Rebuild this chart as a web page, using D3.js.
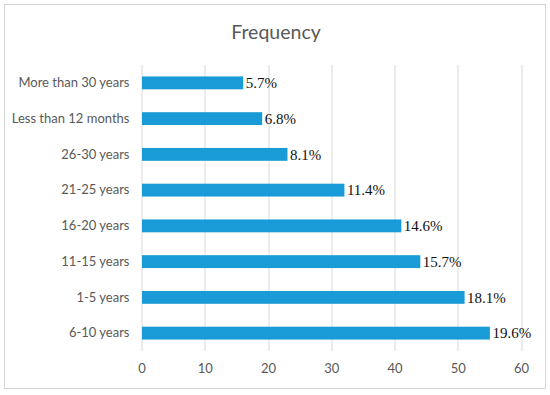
<!DOCTYPE html>
<html>
<head>
<meta charset="utf-8">
<script src="https://cdn.jsdelivr.net/npm/d3@7"></script>
<style>
  body { margin: 0; background: #fff; }
</style>
</head>
<body>
<div id="chart"></div>
<script>
// data, top to bottom
var categories = ["More than 30 years", "Less than 12 months", "26-30 years", "21-25 years",
                  "16-20 years", "11-15 years", "1-5 years", "6-10 years"];
var counts = [16, 19, 23, 32, 41, 44, 51, 55];
var percents = ["5.7%", "6.8%", "8.1%", "11.4%", "14.6%", "15.7%", "18.1%", "19.6%"];
var xTicks = [0, 10, 20, 30, 40, 50, 60];

var svgWidth = 550;
var svgHeight = 395;

var margin = { top: 65, right: 29, bottom: 44, left: 141.5 };
var chartWidth = svgWidth - margin.left - margin.right;
var chartHeight = svgHeight - margin.top - margin.bottom;

var svg = d3.select("#chart")
  .append("svg")
  .attr("width", svgWidth)
  .attr("height", svgHeight);

// outer frame
svg.append("rect")
  .attr("x", 4.5)
  .attr("y", 4.5)
  .attr("width", 541)
  .attr("height", 384)
  .attr("fill", "#fff")
  .attr("stroke", "#d4d4d4");

svg.append("text")
  .attr("x", 276)
  .attr("y", 39)
  .attr("text-anchor", "middle")
  .attr("font-family", "Lato, 'Open Sans', sans-serif")
  .attr("font-size", "19.5px")
  .attr("fill", "#595959")
  .text("Frequency");

var chartGroup = svg.append("g")
  .attr("transform", `translate(${margin.left}, ${margin.top})`);

var x = d3.scaleLinear()
  .domain([0, 60])
  .range([0, chartWidth]);

var y = d3.scaleBand()
  .domain(categories)
  .range([0, chartHeight])
  .paddingInner(0.64)
  .paddingOuter(0.32);

// gridlines
chartGroup.selectAll(".grid")
  .data(xTicks)
  .enter()
  .append("line")
  .attr("x1", d => Math.round(x(d)) + 0.5)
  .attr("x2", d => Math.round(x(d)) + 0.5)
  .attr("y1", 0)
  .attr("y2", chartHeight)
  .attr("stroke", "#d9d9d9")
  .attr("stroke-width", 1);

// x axis labels
var xAxis = d3.axisBottom(x).tickValues(xTicks).tickSize(0).tickPadding(13);
var xg = chartGroup.append("g")
  .attr("transform", `translate(0, ${chartHeight})`)
  .call(xAxis);
xg.select(".domain").remove();
xg.selectAll("text")
  .attr("font-family", "Lato, 'Open Sans', sans-serif")
  .attr("font-size", "13px")
  .attr("fill", "#595959");

// y axis labels
var yAxis = d3.axisLeft(y).tickSize(0).tickPadding(12);
var yg = chartGroup.append("g").call(yAxis);
yg.select(".domain").remove();
yg.selectAll("text")
  .attr("font-family", "Lato, 'Open Sans', sans-serif")
  .attr("font-size", "13px")
  .attr("fill", "#595959");

// bars
chartGroup.selectAll(".bar")
  .data(counts)
  .enter()
  .append("rect")
  .attr("x", x(0) + 0.5)
  .attr("y", (d, i) => y(categories[i]))
  .attr("width", d => x(d) - x(0))
  .attr("height", y.bandwidth())
  .attr("fill", "#189bd7");

// value labels
chartGroup.selectAll(".val")
  .data(counts)
  .enter()
  .append("text")
  .attr("x", d => x(d) + 3)
  .attr("y", (d, i) => y(categories[i]) + y.bandwidth() / 2)
  .attr("dy", "0.35em")
  .attr("font-family", "'Liberation Serif', 'Times New Roman', serif")
  .attr("font-size", "15px")
  .attr("fill", "#111")
  .text((d, i) => percents[i]);
</script>
</body>
</html>
